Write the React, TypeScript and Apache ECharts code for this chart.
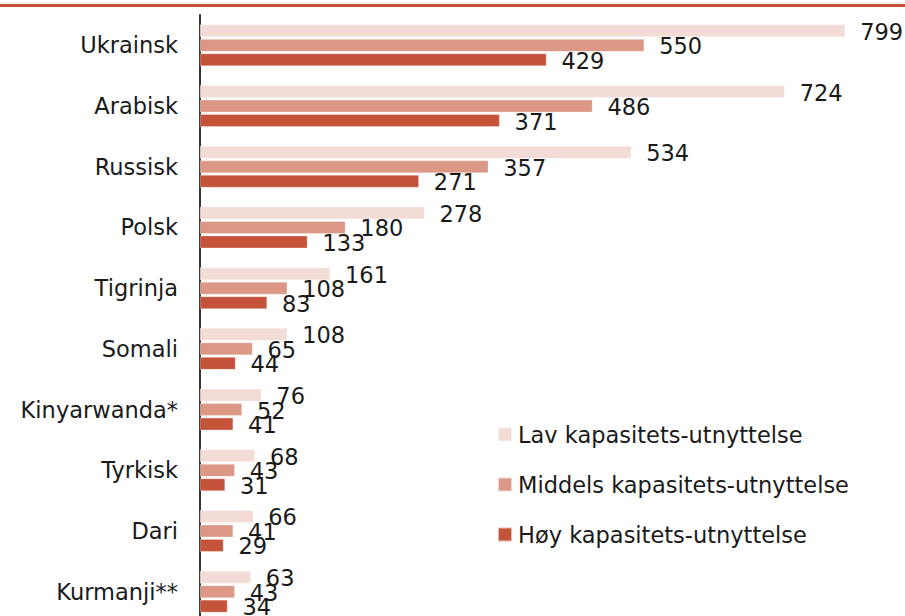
import React, { useEffect, useRef } from "react";
import * as echarts from "echarts";

const categories = [
  "Ukrainsk",
  "Arabisk",
  "Russisk",
  "Polsk",
  "Tigrinja",
  "Somali",
  "Kinyarwanda*",
  "Tyrkisk",
  "Dari",
  "Kurmanji**",
];
const lavValues = [799, 724, 534, 278, 161, 108, 76, 68, 66, 63];
const middelsValues = [550, 486, 357, 180, 108, 65, 52, 43, 41, 43];
const hoyValues = [429, 371, 271, 133, 83, 44, 41, 31, 29, 34];
const seriesNames = [
  "Lav kapasitets-utnyttelse",
  "Middels kapasitets-utnyttelse",
  "Høy kapasitets-utnyttelse",
];
const colors = ["#f3dcd6", "#dc9785", "#c4533a"];

const FONT = "DejaVu Sans";

export default function App() {
  const ref = useRef<HTMLDivElement>(null);
  useEffect(() => {
    if (!ref.current) return;
    const chart = echarts.init(ref.current, null, { renderer: "svg" });
    const data = [lavValues, middelsValues, hoyValues];
    chart.setOption({
      animation: false,
      backgroundColor: "#ffffff",
      textStyle: { fontFamily: FONT },
      grid: { left: 200, right: 59, top: 15, bottom: 0, containLabel: false },
      graphic: [
        {
          type: "line",
          shape: { x1: 0, y1: 5.5, x2: 905, y2: 5.5 },
          style: { stroke: "#c4533a", lineWidth: 3 },
          z: 10,
        },
      ],
      legend: {
        orient: "vertical",
        left: 492,
        top: 418,
        itemWidth: 14,
        itemHeight: 14,
        itemGap: 27,
        icon: "rect",
        textStyle: {
          fontFamily: FONT,
          fontSize: 22.5,
          color: "#1a1a1a",
          lineHeight: 23,
          padding: [0, 0, 0, 1],
        },
        data: seriesNames,
      },
      xAxis: {
        type: "value",
        min: 0,
        max: 800,
        show: false,
        splitLine: { show: false },
      },
      yAxis: {
        type: "category",
        inverse: true,
        data: categories,
        axisLine: { show: true, lineStyle: { color: "#333333", width: 2 } },
        axisTick: { show: false },
        axisLabel: {
          margin: 22,
          fontFamily: FONT,
          fontSize: 22.5,
          color: "#1a1a1a",
        },
      },
      series: seriesNames.map((name, i) => ({
        name,
        type: "bar",
        data: data[i],
        barWidth: 12.5,
        barGap: "16%",
        itemStyle: {
          color: colors[i],
          borderColor: "rgba(255,255,255,0.6)",
          borderWidth: 0.5,
        },
        label: {
          show: true,
          position: "right",
          distance: 15,
          offset: [0, 1],
          fontFamily: FONT,
          fontSize: 22.5,
          color: "#1a1a1a",
        },
      })),
    });
    return () => chart.dispose();
  }, []);
  return (
    <div
      ref={ref}
      style={{ position: "fixed", left: 0, top: 0, width: 905, height: 622 }}
    />
  );
}
